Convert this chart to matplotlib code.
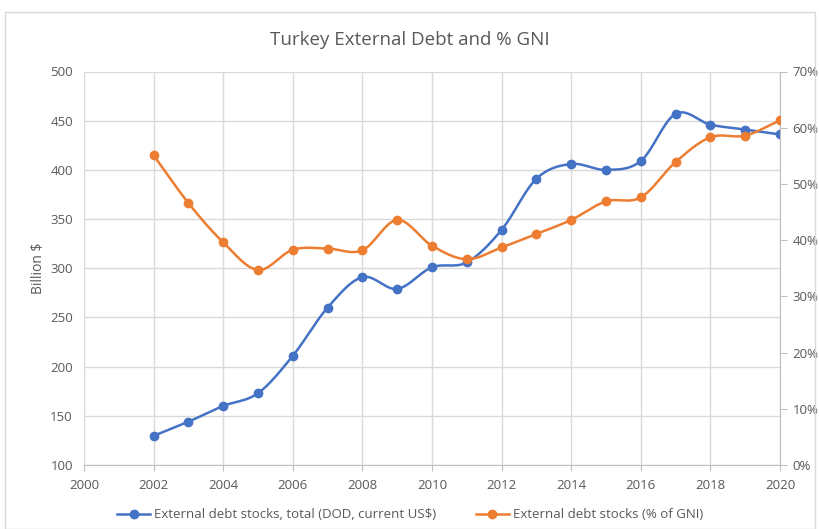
import numpy as np
import matplotlib
matplotlib.use("Agg")
import matplotlib.pyplot as plt
from matplotlib.patches import Rectangle
from matplotlib.ticker import FuncFormatter

# Turkey external debt, 2002-2020
years = [2002, 2003, 2004, 2005, 2006, 2007, 2008, 2009, 2010, 2011,
         2012, 2013, 2014, 2015, 2016, 2017, 2018, 2019, 2020]
debt_bn = [129.6, 144, 160, 173, 211, 260, 291, 279, 301, 306,
           339, 391, 406, 400, 409, 457, 446, 441, 436]
debt_pct_gni = [55.1, 46.6, 39.6, 34.7, 38.3, 38.5, 38.2, 43.6, 39.0, 36.6,
                38.7, 41.1, 43.6, 46.9, 47.6, 53.9, 58.3, 58.6, 61.3]

BLUE = "#4472C4"
ORANGE = "#ED7D31"
GRID = "#d9d9d9"
TXT = "#595959"


def smooth(x, y, n=20):
    # catmull-rom curve through the points, like a spreadsheet "smoothed line"
    x = np.asarray(x, float)
    y = np.asarray(y, float)
    px = np.concatenate([[2 * x[0] - x[1]], x, [2 * x[-1] - x[-2]]])
    py = np.concatenate([[2 * y[0] - y[1]], y, [2 * y[-1] - y[-2]]])
    t = np.linspace(0, 1, n, endpoint=False)
    xs, ys = [], []
    for i in range(1, len(px) - 2):
        for arr, out in ((px, xs), (py, ys)):
            p0, p1, p2, p3 = arr[i - 1], arr[i], arr[i + 1], arr[i + 2]
            out.extend(0.5 * (2 * p1 + (-p0 + p2) * t
                              + (2 * p0 - 5 * p1 + 4 * p2 - p3) * t ** 2
                              + (-p0 + 3 * p1 - 3 * p2 + p3) * t ** 3))
    xs.append(x[-1])
    ys.append(y[-1])
    return np.array(xs), np.array(ys)


plt.rcParams["font.family"] = ["Open Sans", "DejaVu Sans"]

fig = plt.figure(figsize=(8.2, 5.29), dpi=100)
fig.patches.append(Rectangle((5 / 820, 0), 1 - 10 / 820, 1 - 12 / 529,
                             transform=fig.transFigure, fill=False,
                             edgecolor="#d9d9d9", linewidth=1))

ax = fig.add_axes([84 / 820, 1 - 465 / 529, (780 - 84) / 820, (465 - 71.5) / 529])
ax2 = ax.twinx()

ax.set_xlim(2000, 2020)
ax.set_ylim(100, 500)
ax.set_xticks(range(2000, 2021, 2))
ax.set_yticks(range(100, 501, 50))
ax2.set_ylim(0, 70)
ax2.set_yticks(range(0, 71, 10))
ax2.yaxis.set_major_formatter(FuncFormatter(lambda v, p: f"{v:.0f}%"))

ax.grid(True, color=GRID, linewidth=1)
ax.set_axisbelow(True)
for a in (ax, ax2):
    for s in a.spines.values():
        s.set_visible(False)
ax.spines["bottom"].set_visible(True)
ax.spines["bottom"].set_color("#bfbfbf")
ax2.spines["right"].set_visible(True)
ax2.spines["right"].set_color("#bfbfbf")

ax.tick_params(axis="x", colors="#bfbfbf", labelcolor=TXT, labelsize=9.5, length=4, pad=6)
ax.tick_params(axis="y", length=0, labelcolor=TXT, labelsize=9.5, pad=8)
ax2.tick_params(axis="y", colors="#bfbfbf", labelcolor=TXT, labelsize=9.5, length=5, pad=4)

ax.set_ylabel("Billion $", color=TXT, fontsize=10, labelpad=3)

sx, sy = smooth(years, debt_bn)
ax.plot(sx, sy, color=BLUE, linewidth=1.8, zorder=3)
ax.plot(years, debt_bn, "o", color=BLUE, markersize=6, zorder=4)

ox, oy = smooth(years, debt_pct_gni)
ax2.plot(ox, oy, color=ORANGE, linewidth=1.8, zorder=3)
ax2.plot(years, debt_pct_gni, "o", color=ORANGE, markersize=6, zorder=4)

fig.text(0.5, 1 - 40 / 529, "Turkey External Debt and % GNI", ha="center", va="center",
         fontsize=13.5, color=TXT)

h1 = plt.Line2D([], [], color=BLUE, marker="o", markersize=6, linewidth=1.8)
h2 = plt.Line2D([], [], color=ORANGE, marker="o", markersize=6, linewidth=1.8)
fig.legend([h1, h2], ["External debt stocks, total (DOD, current US$)",
                      "External debt stocks (% of GNI)"],
           loc="center", bbox_to_anchor=(0.5, 1 - 515 / 529), ncol=2, frameon=False,
           fontsize=9.5, labelcolor=TXT, handlelength=2.5, columnspacing=3, handletextpad=0.3)

fig.savefig("out.png", dpi=100)
